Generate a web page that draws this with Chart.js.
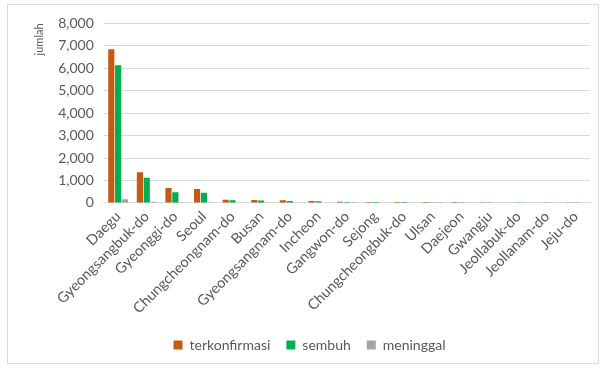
<!DOCTYPE html>
<html>
<head>
<meta charset="utf-8">
<script src="https://cdn.jsdelivr.net/npm/chart.js@4"></script>
<style>
  html, body { margin: 0; padding: 0; background: #ffffff; }
  #frame {
    position: absolute;
    left: 7px;
    top: 4px;
    width: 592px;
    height: 360px;
    border: 1px solid #d9d9d9;
    box-sizing: border-box;
  }
</style>
</head>
<body>
<div id="frame"><canvas id="bar_chart"></canvas></div>
<script>
const provinces = [
  "Daegu", "Gyeongsangbuk-do", "Gyeonggi-do", "Seoul", "Chungcheongnam-do",
  "Busan", "Gyeongsangnam-do", "Incheon", "Gangwon-do", "Sejong",
  "Chungcheongbuk-do", "Ulsan", "Daejeon", "Gwangju", "Jeollabuk-do",
  "Jeollanam-do", "Jeju-do",
]
const terkonfirmasi = [6852, 1365, 670, 620, 143, 135, 115, 90, 53, 46, 45, 43, 40, 30, 18, 15, 13]
const sembuh = [6130, 1120, 480, 450, 120, 110, 90, 80, 40, 40, 40, 35, 30, 25, 10, 12, 10]
const meninggal = [165, 50, 10, 3, 0, 3, 0, 0, 2, 0, 0, 1, 0, 0, 0, 0, 0]
const yTicks = [0, 1000, 2000, 3000, 4000, 5000, 6000, 7000, 8000]

const textColor = "#595959"
const font = "Lato"

new Chart(document.getElementById("bar_chart"), {
  type: "bar",
  data: {
    labels: provinces,
    datasets: [
      { label: "terkonfirmasi", data: terkonfirmasi, backgroundColor: "#c55a11" },
      { label: "sembuh", data: sembuh, backgroundColor: "#00b050" },
      { label: "meninggal", data: meninggal, backgroundColor: "#a5a5a5" },
    ].map((ds) => ({ ...ds, categoryPercentage: 0.72, barPercentage: 0.9 })),
  },
  options: {
    responsive: true,
    maintainAspectRatio: false,
    animation: false,
    devicePixelRatio: 1,
    layout: { padding: { left: 21, right: 8, top: 12, bottom: 1 } },
    scales: {
      x: {
        grid: { display: false, drawTicks: false },
        border: { color: "#d9d9d9" },
        ticks: {
          color: textColor,
          font: { family: font, size: 14.5 },
          maxRotation: 45,
          minRotation: 45,
          autoSkip: false,
          padding: 5,
        },
      },
      y: {
        min: 0,
        max: 8000,
        afterBuildTicks: (axis) => {
          axis.ticks = yTicks.map((v) => ({ value: v }))
        },
        grid: { color: "#d9d9d9", drawTicks: false },
        border: { display: false },
        ticks: {
          color: textColor,
          font: { family: font, size: 14 },
          padding: 10,
          callback: (v) => v.toLocaleString("en-US"),
        },
        title: {
          display: true,
          text: "jumlah",
          align: "end",
          color: textColor,
          font: { family: font, size: 11 },
          padding: { bottom: 2 },
        },
      },
    },
    plugins: {
      legend: {
        display: true,
        position: "bottom",
        labels: {
          color: textColor,
          font: { family: font, size: 14 },
          boxWidth: 9,
          boxHeight: 9,
          padding: 16,
        },
      },
      tooltip: { enabled: false },
    },
  },
})
</script>
</body>
</html>
